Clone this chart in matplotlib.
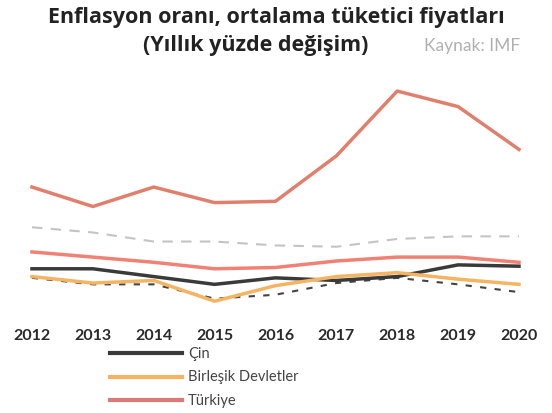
import matplotlib
matplotlib.use('Agg')
from matplotlib import pyplot as plt

# data (yearly % change)
years = [2012, 2013, 2014, 2015, 2016, 2017, 2018, 2019, 2020]
turkiye = [8.9, 7.4, 8.9, 7.7, 7.8, 11.3, 16.3, 15.1, 11.8]
dunya = [3.9, 3.5, 3.1, 2.6, 2.7, 3.2, 3.5, 3.5, 3.1]
gelismekte = [5.8, 5.4, 4.7, 4.7, 4.4, 4.3, 4.9, 5.1, 5.1]
cin = [2.6, 2.6, 2.0, 1.4, 1.9, 1.7, 2.0, 2.9, 2.8]
abd = [2.0, 1.5, 1.7, 0.1, 1.3, 2.0, 2.3, 1.8, 1.4]
gelismis = [1.9, 1.4, 1.4, 0.3, 0.6, 1.5, 1.9, 1.4, 0.8]
legend_labels = ['Çin', 'Birleşik Devletler', 'Türkiye']

plt.rcParams['font.family'] = ['Lato', 'DejaVu Sans']

f = plt.figure(figsize=(5.52, 4.14), dpi=100)
ax = f.add_axes([0.0362, 0.2512, 0.9257, 0.5556])

ax.plot(years, gelismekte, color='#c4c4c4', lw=1.5, ls=(0, (5, 4)))
ax.plot(years, gelismis, color='#444444', lw=1.5, ls=(0, (3, 4)))
ax.plot(years, dunya, color='#ef8274', lw=2.5)
ax.plot(years, cin, color='#3a3a3a', lw=2.5)
ax.plot(years, abd, color='#f5b462', lw=2.5)
ax.plot(years, turkiye, color='#e0806c', lw=2.5)

ax.set_xlim(2011.803, 2020.197)
ax.set_ylim(-0.5, 17.23)
ax.set_xticks(years)
ax.set_xticklabels([str(y) for y in years], fontsize=11.5, fontweight='bold', color='#2a2a2a')
ax.set_yticks([])
ax.tick_params(axis='x', length=0, pad=14)
for s in ax.spines.values():
    s.set_visible(False)

# legend drawn by hand, only three entries are shown
leg_cols = ['#3a3a3a', '#f5b462', '#d97a78']
for i, (lab, c) in enumerate(zip(legend_labels, leg_cols)):
    yy = 1 - (354 + i * 23.5) / 414
    f.add_artist(plt.Line2D([110 / 552, 182 / 552], [yy, yy], color=c, lw=3))
    f.text(188 / 552, yy, lab, fontsize=10.5, color='#444444', va='center', ha='left')

title_font = dict(family=['Open Sans', 'DejaVu Sans'], fontsize=15.5, fontweight='bold', color='#222222')
f.text(0.5, 1 - 18 / 414, 'Enflasyon oranı, ortalama tüketici fiyatları',
       ha='center', va='center', **title_font)
f.text(0.463, 1 - 46 / 414, '(Yıllık yüzde değişim)',
       ha='center', va='center', **title_font)
f.text(472 / 552, 1 - 46 / 414, 'Kaynak: IMF', ha='center', va='center',
       fontsize=12.5, color='#b0b0b0')

f.savefig('out.png', dpi=100)
